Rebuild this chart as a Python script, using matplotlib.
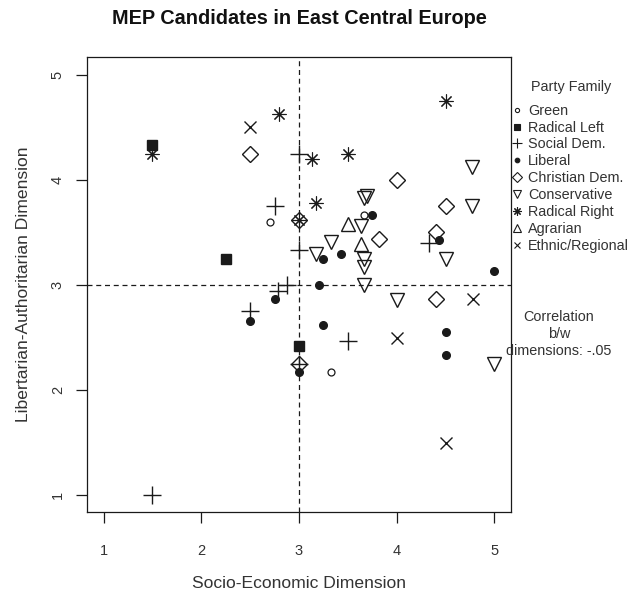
import matplotlib
matplotlib.use("Agg")
import matplotlib.pyplot as plt
from matplotlib.lines import Line2D

plt.rcParams['font.family'] = ['Liberation Sans', 'DejaVu Sans']

# Party family positions: (socio-economic, libertarian-authoritarian)
green_x = [2.70, 3.67, 3.33]
green_y = [3.60, 3.67, 2.17]

radleft_x = [1.50, 2.25, 3.00]
radleft_y = [4.33, 3.25, 2.42]

socdem_x = [3.00, 2.75, 3.00, 4.33, 2.88, 2.79, 2.50, 3.50, 1.50, 3.00]
socdem_y = [4.25, 3.75, 3.33, 3.40, 3.00, 2.94, 2.75, 2.47, 1.00, 2.25]

liberal_x = [3.75, 4.43, 3.25, 3.43, 5.00, 2.75, 2.50, 3.00, 3.20, 3.25, 4.50, 4.50]
liberal_y = [3.67, 3.43, 3.25, 3.30, 3.13, 2.87, 2.66, 2.17, 3.00, 2.62, 2.55, 2.33]

chrdem_x = [2.50, 3.00, 4.00, 4.50, 3.82, 4.40, 4.40, 3.00]
chrdem_y = [4.25, 3.62, 4.00, 3.75, 3.44, 3.50, 2.87, 2.25]

conserv_x = [4.77, 4.77, 3.67, 3.70, 3.63, 3.33, 3.17, 3.67, 3.67, 4.50, 3.67, 4.00, 5.00]
conserv_y = [4.12, 3.75, 3.83, 3.85, 3.56, 3.41, 3.30, 3.25, 3.17, 3.25, 3.00, 2.86, 2.25]

radright_x = [1.50, 2.80, 4.50, 3.13, 3.50, 3.17, 3.00]
radright_y = [4.25, 4.63, 4.75, 4.20, 4.25, 3.78, 3.62]

agrarian_x = [3.50, 3.63]
agrarian_y = [3.58, 3.39]

ethnic_x = [2.50, 4.78, 4.00, 4.50]
ethnic_y = [4.50, 2.87, 2.50, 1.50]

families = ["Green", "Radical Left", "Social Dem.", "Liberal", "Christian Dem.",
            "Conservative", "Radical Right", "Agrarian", "Ethnic/Regional"]

ticks = [1, 2, 3, 4, 5]
correlation = "-.05"

ink = "#1a1a1a"
txt = "#333333"

# marker style, size, filled, edge width for each family
styles = [
    ("o", 5, False, 0.9),
    ("s", 6.5, True, 1.0),
    ("+", 13, False, 1.0),
    ("o", 5.5, True, 1.0),
    ("D", 8.5, False, 1.0),
    ("v", 10, False, 1.0),
    ((8, 2, 0), 10, False, 0.8),
    ("^", 10, False, 1.0),
    ("x", 8, False, 1.0),
]
data = [(green_x, green_y), (radleft_x, radleft_y), (socdem_x, socdem_y),
        (liberal_x, liberal_y), (chrdem_x, chrdem_y), (conserv_x, conserv_y),
        (radright_x, radright_y), (agrarian_x, agrarian_y), (ethnic_x, ethnic_y)]

fig = plt.figure(figsize=(6.33, 6.04), dpi=100)
ax = fig.add_axes([87/633, 1 - 512/604, (511-87)/633, (512-57)/604])

for (xs, ys), (m, ms, filled, lw) in zip(data, styles):
    ax.plot(xs, ys, linestyle="none", marker=m, markersize=ms,
            markerfacecolor=ink if filled else "none",
            markeredgecolor=ink, markeredgewidth=lw, zorder=3)

ax.axvline(3, color=ink, lw=0.9, dashes=(4, 3), zorder=1)
ax.axhline(3, color=ink, lw=0.9, dashes=(4, 3), zorder=1)

ax.set_xlim(0.83, 5.17)
ax.set_ylim(0.84, 5.17)
ax.set_xticks(ticks)
ax.set_yticks(ticks)
ax.set_xticklabels([str(t) for t in ticks], color=txt, fontsize=10.5)
ax.set_yticklabels([str(t) for t in ticks], color=txt, fontsize=10.5,
                   rotation=90, va="center")
ax.tick_params(direction="out", length=8, width=0.9, color=ink)
ax.tick_params(axis="x", pad=15)
ax.tick_params(axis="y", pad=8)
for s in ax.spines.values():
    s.set_color(ink)
    s.set_linewidth(0.9)

ax.set_xlabel("Socio-Economic Dimension", fontsize=12.6, color=txt, labelpad=13)
ax.set_ylabel("Libertarian-Authoritarian Dimension", fontsize=12.6, color=txt, labelpad=14)
fig.text(299/633, 1 - 19/604, "MEP Candidates in East Central Europe",
         ha="center", va="center", fontsize=14.3, fontweight="bold", color="#111111")

# legend on the right margin
handles = []
for (m, ms, filled, lw) in styles:
    handles.append(Line2D([], [], linestyle="none", marker=m, markersize=ms * 0.6,
                          markerfacecolor=ink if filled else "none",
                          markeredgecolor=ink, markeredgewidth=0.8))
leg = fig.legend(handles, families, loc="upper left",
                 bbox_to_anchor=(513/633, 1 - 80/604), frameon=False,
                 title="Party Family", fontsize=10.4, title_fontsize=10.4,
                 handlelength=0.6, handletextpad=0.45, labelspacing=0.2,
                 borderpad=0, borderaxespad=0)
for t in leg.get_texts():
    t.set_color(txt)
leg.get_title().set_color(txt)
leg._legend_box.sep = 7

fig.text(559/633, 1 - 334/604, "Correlation\nb/w\ndimensions: " + correlation,
         ha="center", va="center", fontsize=10.4, color=txt, linespacing=1.25)

fig.savefig("out.png", dpi=100)
